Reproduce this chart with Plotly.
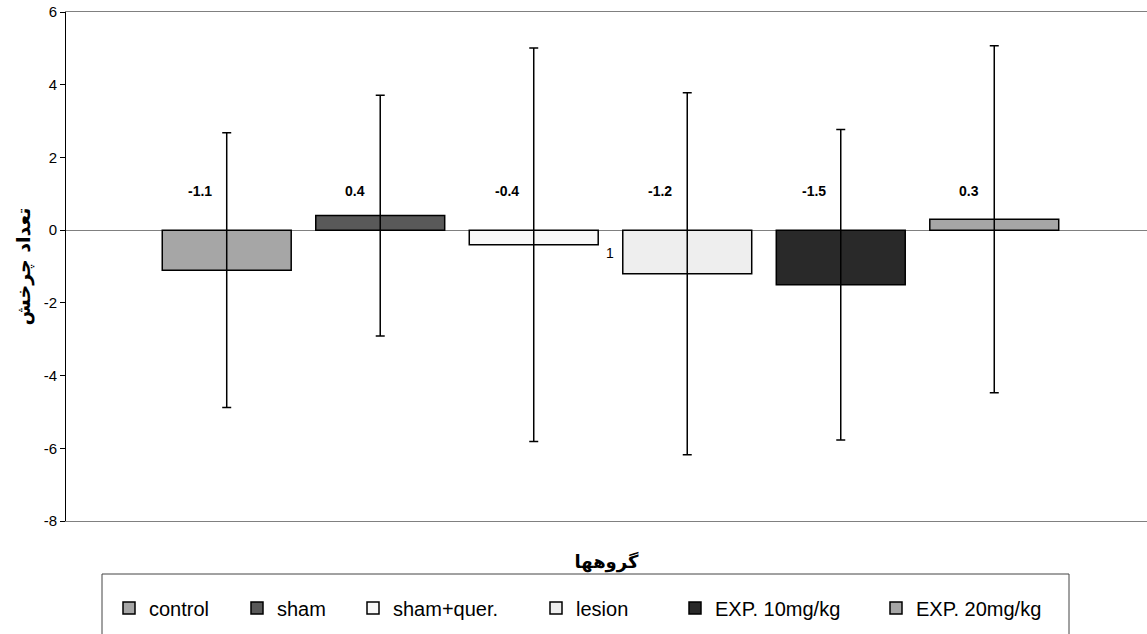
import plotly.graph_objects as go

# Group means and standard deviations of the turning counts
groups = ["control", "sham", "sham+quer.", "lesion", "EXP. 10mg/kg", "EXP. 20mg/kg"]
means = [-1.1, 0.4, -0.4, -1.2, -1.5, 0.3]
sds = [3.78, 3.31, 5.41, 4.98, 4.27, 4.77]
category_label = "1"
y_ticks = [-8, -6, -4, -2, 0, 2, 4, 6]
y_ticktext = ["-8", "-6", "-4", "-2", "0", "2", "4", "6"]
y_title = "تعداد چرخش"
x_title = "گروهها"

# Styling
fills = ["#a6a6a6", "#595959", "#f8f8f8", "#eeeeee", "#292929", "#a6a6a6"]
W, H = 1147, 634
LATIN = "Arial, Liberation Sans, sans-serif"
ARABIC = "DejaVu Sans, sans-serif"
legend_px = [125, 253, 369, 552, 691, 892]   # left edge of each legend key
legend_py = 608

fig = go.Figure()
legend_layouts = {}
for i, (name, m, s, c) in enumerate(zip(groups, means, sds, fills)):
    key = "legend" if i == 0 else f"legend{i + 1}"
    fig.add_trace(go.Bar(
        x=[i], y=[m], width=0.84, name=name, legend=key, showlegend=True,
        marker=dict(color=c, line=dict(color="black", width=1.5)),
        error_y=dict(type="data", array=[s], symmetric=True,
                     color="black", thickness=1.5, width=4.5),
    ))
    legend_layouts[key] = dict(
        x=(legend_px[i] - 16) / W, xref="container", xanchor="left",
        y=1 - legend_py / H, yref="container", yanchor="middle",
        orientation="h", bgcolor="rgba(0,0,0,0)", borderwidth=0,
        font=dict(family=LATIN, size=20, color="black"),
    )
    fig.add_annotation(
        x=i, y=1.07, text=f"{m:.1f}", showarrow=False,
        xanchor="right", yanchor="middle", xshift=-13,
        font=dict(family=LATIN, size=14, color="black", weight="bold"),
    )

# category label sits just under the zero line, at the centre of the cluster
fig.add_annotation(
    x=(len(groups) - 1) / 2, y=0, text=category_label, showarrow=False,
    yanchor="middle", yshift=-23,
    font=dict(family=LATIN, size=14, color="black"),
)

# legend frame
x0, x1, pw, ph = 66, 1147, 1081, 509
fig.add_shape(type="rect", xref="paper", yref="paper",
              x0=(102 - x0) / pw, x1=(1069 - x0) / pw,
              y0=(521 - 574) / ph, y1=(521 - 650) / ph,
              line=dict(color="#444", width=1), fillcolor="rgba(0,0,0,0)")

fig.update_layout(
    width=W, height=H,
    margin=dict(l=66, r=0, t=12, b=113),
    paper_bgcolor="white", plot_bgcolor="white",
    barmode="overlay", showlegend=True,
    xaxis=dict(
        range=[-1.047, 5.995], showticklabels=False, ticks="",
        showgrid=False, zeroline=False,
        showline=True, mirror=True, linecolor="#808080", linewidth=1,
        title=dict(text=x_title, standoff=34,
                   font=dict(family=ARABIC, size=18, color="black", weight="bold")),
    ),
    yaxis=dict(
        range=[-8, 6], tickvals=y_ticks, ticktext=y_ticktext,
        ticks="outside", ticklen=5,
        tickcolor="black", showgrid=False,
        showline=True, linecolor="black", linewidth=1,
        zeroline=True, zerolinecolor="#808080", zerolinewidth=1,
        tickfont=dict(family=LATIN, size=15, color="black"),
        title=dict(text=y_title, standoff=8,
                   font=dict(family=ARABIC, size=19, color="black", weight="bold")),
    ),
    **legend_layouts,
)

fig.write_html("out.html")
